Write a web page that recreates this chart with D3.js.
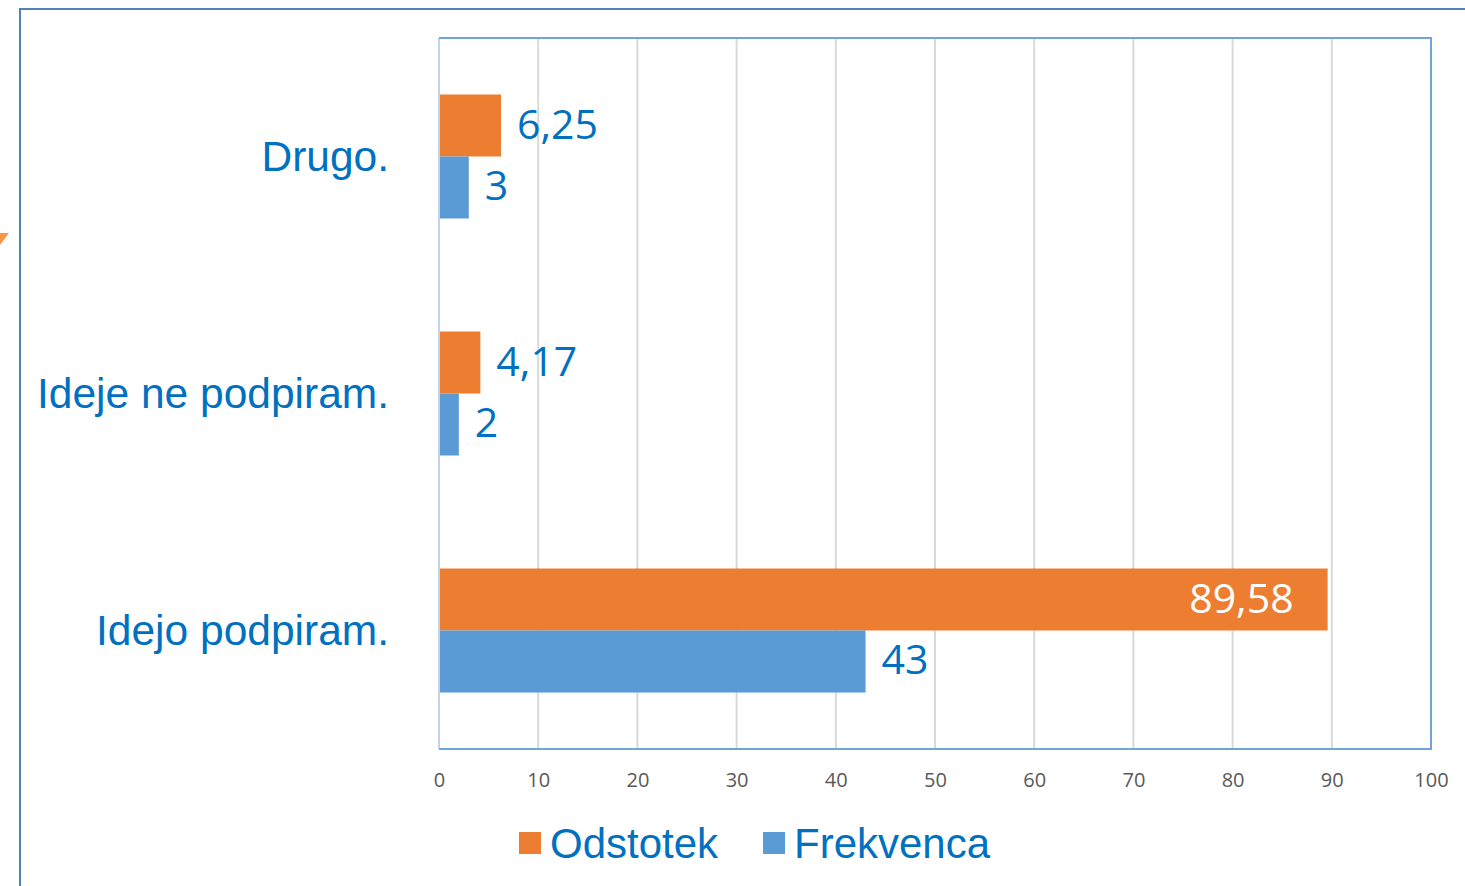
<!DOCTYPE html>
<meta charset="utf-8">
<style>
body { margin: 0; background: #fff; }
.grid line { stroke: #d9d9d9; stroke-width: 2px; }
.xaxis text { font-family: "Open Sans", sans-serif; font-size: 20px; fill: #595959; }
.cat { font-family: "Liberation Sans", Arial, sans-serif; font-size: 42.5px; fill: #0070c0; }
.val { font-family: "Open Sans", sans-serif; font-size: 41px; }
.legend text { font-family: "Liberation Sans", Arial, sans-serif; font-size: 42px; fill: #0070c0; }
</style>
<svg width="1465" height="886"></svg>
<script src="https://d3js.org/d3.v7.min.js"></script>
<script>

var categories = ["Drugo.", "Ideje ne podpiram.", "Idejo podpiram."];
var seriesNames = ["Odstotek", "Frekvenca"];
var odstotek = [6.25, 4.17, 89.58];
var frekvenca = [3, 2, 43];
var ticks = [0, 10, 20, 30, 40, 50, 60, 70, 80, 90, 100];

var colors = { "Odstotek": "#ed7d31", "Frekvenca": "#5b9bd5" };

var svg = d3.select("svg");

// outer frame (slide box)
svg.append("path")
    .attr("d", "M20,886 V9 H1465")
    .attr("fill", "none")
    .attr("stroke", "#4f81bd")
    .attr("stroke-width", 2);

// small orange triangle at the left edge
svg.append("path")
    .attr("d", "M0,233 L9,233 L0,245 Z")
    .attr("fill", "#f79646");

var plotL = 439, plotR = 1431, plotT = 38, plotB = 749;

var x = d3.scaleLinear().domain([0, 100]).range([plotL, plotR]);

var y = d3.scaleBand()
    .domain(categories)
    .range([plotT, plotB])
    .paddingInner(0.4768)
    .paddingOuter(0.2384);

var ySub = d3.scaleBand()
    .domain(seriesNames)
    .range([0, y.bandwidth()]);

var fmt = d3.formatLocale({ decimal: ",", thousands: ".", grouping: [3], currency: ["", "€"] }).format("~r");

// gridlines
svg.append("g")
    .attr("class", "grid")
  .selectAll("line")
  .data(ticks.slice(1, -1))
  .enter().append("line")
    .attr("x1", function(d) { return x(d); })
    .attr("x2", function(d) { return x(d); })
    .attr("y1", plotT)
    .attr("y2", plotB);

// plot border
svg.append("line")
    .attr("x1", plotL).attr("x2", plotL).attr("y1", plotT).attr("y2", plotB)
    .attr("stroke", "#c5d3e6").attr("stroke-width", 2);
svg.append("path")
    .attr("d", "M" + plotL + "," + plotT + " H" + plotR + " V" + plotB + " H" + plotL)
    .attr("fill", "none")
    .attr("stroke", "#6fa3db")
    .attr("stroke-width", 2);

// x axis
var xAxis = svg.append("g")
    .attr("class", "xaxis")
    .attr("transform", "translate(0," + plotB + ")")
    .call(d3.axisBottom(x).tickValues(ticks).tickSize(0).tickPadding(24));
xAxis.select(".domain").remove();

// category labels
svg.append("g")
  .selectAll("text")
  .data(categories)
  .enter().append("text")
    .attr("class", "cat")
    .attr("x", 389)
    .attr("y", function(d) { return y(d) + y.bandwidth() / 2 + 14; })
    .attr("text-anchor", "end")
    .text(function(d) { return d; });

var rows = [];
categories.forEach(function(c, i) {
  rows.push({ cat: c, series: "Odstotek", value: odstotek[i] });
  rows.push({ cat: c, series: "Frekvenca", value: frekvenca[i] });
});

var bars = svg.append("g");

bars.selectAll("rect")
  .data(rows)
  .enter().append("rect")
    .attr("x", x(0) + 1)
    .attr("y", function(d) { return y(d.cat) + ySub(d.series); })
    .attr("width", function(d) { return x(d.value) - x(0) - 1; })
    .attr("height", ySub.bandwidth())
    .attr("fill", function(d) { return colors[d.series]; });

bars.selectAll("text")
  .data(rows)
  .enter().append("text")
    .attr("class", "val")
    .attr("x", function(d) { return d.value > 50 ? x(d.value) - 34 : x(d.value) + 16; })
    .attr("y", function(d) { return y(d.cat) + ySub(d.series) + ySub.bandwidth() / 2 + 13; })
    .attr("text-anchor", function(d) { return d.value > 50 ? "end" : "start"; })
    .attr("fill", function(d) { return d.value > 50 ? "#ffffff" : "#0070c0"; })
    .text(function(d) { return fmt(d.value); });

// legend
var legend = svg.append("g").attr("class", "legend");
var legX = [519, 763];
seriesNames.forEach(function(s, i) {
  legend.append("rect")
      .attr("x", legX[i]).attr("y", 832)
      .attr("width", 22).attr("height", 22)
      .attr("fill", colors[s]);
  legend.append("text")
      .attr("x", legX[i] + 31).attr("y", 858)
      .text(s);
});

</script>
